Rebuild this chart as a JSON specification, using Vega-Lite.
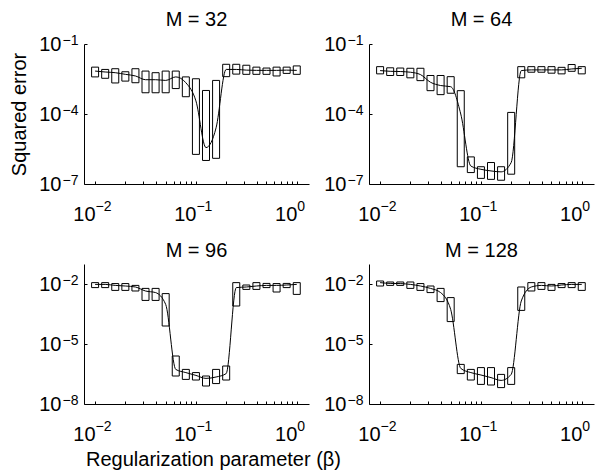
{
  "$schema": "https://vega.github.io/schema/vega-lite/v6.json",
  "background": "white",
  "padding": {"left": 9, "top": 10, "right": 5, "bottom": 5},
  "config": {
    "view": {"stroke": null},
    "font": "Liberation Sans",
    "axis": {"grid": false, "domainColor": "#000", "tickColor": "#000", "labelColor": "#000", "titleColor": "#000", "labelFont": "Liberation Sans", "titleFont": "Liberation Sans", "titleFontWeight": "normal", "labelOverlap": false, "labelFlush": false, "domainWidth": 1, "tickWidth": 1},
    "title": {"font": "Liberation Sans", "fontSize": 20, "fontWeight": "normal", "color": "#000", "frame": "group", "anchor": "middle", "offset": 3, "baseline": "alphabetic"}
  },
  "datasets": {
    "d": [
      {"M": 32, "b": 0.01, "hi": 1.02e-2, "lo": 3.89e-3, "med": 6.92e-3},
      {"M": 32, "b": 0.012589, "hi": 8.13e-3, "lo": 3.39e-3, "med": 6.31e-3},
      {"M": 32, "b": 0.015849, "hi": 8.71e-3, "lo": 2.14e-3, "med": 5.89e-3},
      {"M": 32, "b": 0.019953, "hi": 6.46e-3, "lo": 2.57e-3, "med": 5.01e-3},
      {"M": 32, "b": 0.025119, "hi": 8.71e-3, "lo": 2.19e-3, "med": 4.27e-3},
      {"M": 32, "b": 0.031623, "hi": 6.92e-3, "lo": 8.13e-4, "med": 2.95e-3},
      {"M": 32, "b": 0.039811, "hi": 5.89e-3, "lo": 8.13e-4, "med": 2.95e-3},
      {"M": 32, "b": 0.050119, "hi": 6.92e-3, "lo": 8.13e-4, "med": 2.75e-3},
      {"M": 32, "b": 0.063096, "hi": 6.92e-3, "lo": 1.23e-3, "med": 3.89e-3},
      {"M": 32, "b": 0.079433, "hi": 3.89e-3, "lo": 5.50e-4, "med": 2.19e-3},
      {"M": 32, "b": 0.1, "hi": 3.24e-3, "lo": 1.86e-6, "med": 3.63e-4},
      {"M": 32, "b": 0.125893, "hi": 1.02e-3, "lo": 1.02e-6, "med": 3.63e-6},
      {"M": 32, "b": 0.158489, "hi": 2.75e-3, "lo": 1.26e-6, "med": 2.57e-5},
      {"M": 32, "b": 0.199526, "hi": 1.35e-2, "lo": 3.98e-3, "med": 8.13e-3},
      {"M": 32, "b": 0.251189, "hi": 1.35e-2, "lo": 5.13e-3, "med": 8.13e-3},
      {"M": 32, "b": 0.316228, "hi": 1.23e-2, "lo": 5.01e-3, "med": 7.59e-3},
      {"M": 32, "b": 0.398107, "hi": 1.02e-2, "lo": 5.01e-3, "med": 7.41e-3},
      {"M": 32, "b": 0.501187, "hi": 9.33e-3, "lo": 5.01e-3, "med": 7.41e-3},
      {"M": 32, "b": 0.630957, "hi": 1.02e-2, "lo": 4.27e-3, "med": 7.41e-3},
      {"M": 32, "b": 0.794328, "hi": 1.02e-2, "lo": 5.50e-3, "med": 7.59e-3},
      {"M": 32, "b": 1.0, "hi": 1.15e-2, "lo": 5.01e-3, "med": 7.41e-3},

      {"M": 64, "b": 0.01, "hi": 1.07e-2, "lo": 5.25e-3, "med": 7.24e-3},
      {"M": 64, "b": 0.012589, "hi": 9.55e-3, "lo": 4.47e-3, "med": 6.76e-3},
      {"M": 64, "b": 0.015849, "hi": 9.33e-3, "lo": 4.47e-3, "med": 6.61e-3},
      {"M": 64, "b": 0.019953, "hi": 9.12e-3, "lo": 3.55e-3, "med": 6.17e-3},
      {"M": 64, "b": 0.025119, "hi": 9.12e-3, "lo": 2.69e-3, "med": 4.90e-3},
      {"M": 64, "b": 0.031623, "hi": 4.47e-3, "lo": 1.0e-3, "med": 2.29e-3},
      {"M": 64, "b": 0.039811, "hi": 4.47e-3, "lo": 6.76e-4, "med": 1.66e-3},
      {"M": 64, "b": 0.050119, "hi": 3.98e-3, "lo": 7.76e-4, "med": 1.48e-3},
      {"M": 64, "b": 0.063096, "hi": 1.0e-3, "lo": 5.50e-7, "med": 1.0e-4},
      {"M": 64, "b": 0.079433, "hi": 1.45e-6, "lo": 3.09e-7, "med": 5.89e-7},
      {"M": 64, "b": 0.1, "hi": 5.50e-7, "lo": 1.74e-7, "med": 4.27e-7},
      {"M": 64, "b": 0.125893, "hi": 8.32e-7, "lo": 1.58e-7, "med": 3.63e-7},
      {"M": 64, "b": 0.158489, "hi": 5.50e-7, "lo": 1.45e-7, "med": 3.31e-7},
      {"M": 64, "b": 0.199526, "hi": 1.17e-4, "lo": 2.63e-7, "med": 8.32e-7},
      {"M": 64, "b": 0.251189, "hi": 1.07e-2, "lo": 3.55e-3, "med": 7.24e-3},
      {"M": 64, "b": 0.316228, "hi": 1.07e-2, "lo": 6.17e-3, "med": 7.76e-3},
      {"M": 64, "b": 0.398107, "hi": 1.07e-2, "lo": 6.17e-3, "med": 7.76e-3},
      {"M": 64, "b": 0.501187, "hi": 1.07e-2, "lo": 5.62e-3, "med": 7.76e-3},
      {"M": 64, "b": 0.630957, "hi": 1.0e-2, "lo": 5.25e-3, "med": 7.76e-3},
      {"M": 64, "b": 0.794328, "hi": 1.32e-2, "lo": 6.76e-3, "med": 8.51e-3},
      {"M": 64, "b": 1.0, "hi": 1.07e-2, "lo": 5.25e-3, "med": 9.12e-3},

      {"M": 96, "b": 0.01, "hi": 1.17e-2, "lo": 6.61e-3, "med": 9.55e-3},
      {"M": 96, "b": 0.012589, "hi": 1.17e-2, "lo": 6.61e-3, "med": 9.55e-3},
      {"M": 96, "b": 0.015849, "hi": 1.05e-2, "lo": 4.79e-3, "med": 8.51e-3},
      {"M": 96, "b": 0.019953, "hi": 1.05e-2, "lo": 4.79e-3, "med": 7.94e-3},
      {"M": 96, "b": 0.025119, "hi": 8.51e-3, "lo": 4.47e-3, "med": 7.08e-3},
      {"M": 96, "b": 0.031623, "hi": 6.03e-3, "lo": 1.51e-3, "med": 4.47e-3},
      {"M": 96, "b": 0.039811, "hi": 6.03e-3, "lo": 1.51e-3, "med": 3.72e-3},
      {"M": 96, "b": 0.050119, "hi": 3.31e-3, "lo": 7.94e-5, "med": 9.55e-4},
      {"M": 96, "b": 0.063096, "hi": 2.51e-6, "lo": 2.51e-7, "med": 5.37e-7},
      {"M": 96, "b": 0.079433, "hi": 5.37e-7, "lo": 1.70e-7, "med": 3.72e-7},
      {"M": 96, "b": 0.1, "hi": 3.72e-7, "lo": 1.58e-7, "med": 2.69e-7},
      {"M": 96, "b": 0.125893, "hi": 2.51e-7, "lo": 7.94e-8, "med": 1.91e-7},
      {"M": 96, "b": 0.158489, "hi": 5.37e-7, "lo": 1.05e-7, "med": 2.24e-7},
      {"M": 96, "b": 0.199526, "hi": 7.94e-7, "lo": 1.58e-7, "med": 3.31e-7},
      {"M": 96, "b": 0.251189, "hi": 1.17e-2, "lo": 7.94e-4, "med": 6.61e-3},
      {"M": 96, "b": 0.316228, "hi": 8.91e-3, "lo": 5.37e-3, "med": 7.08e-3},
      {"M": 96, "b": 0.398107, "hi": 1.17e-2, "lo": 5.37e-3, "med": 7.94e-3},
      {"M": 96, "b": 0.501187, "hi": 1.07e-2, "lo": 6.61e-3, "med": 8.51e-3},
      {"M": 96, "b": 0.630957, "hi": 1.05e-2, "lo": 3.98e-3, "med": 8.51e-3},
      {"M": 96, "b": 0.794328, "hi": 1.07e-2, "lo": 6.61e-3, "med": 8.91e-3},
      {"M": 96, "b": 1.0, "hi": 1.17e-2, "lo": 3.02e-3, "med": 9.55e-3},

      {"M": 128, "b": 0.01, "hi": 1.41e-2, "lo": 7.94e-3, "med": 1.17e-2},
      {"M": 128, "b": 0.012589, "hi": 1.26e-2, "lo": 8.51e-3, "med": 1.07e-2},
      {"M": 128, "b": 0.015849, "hi": 1.26e-2, "lo": 8.51e-3, "med": 1.05e-2},
      {"M": 128, "b": 0.019953, "hi": 1.26e-2, "lo": 6.03e-3, "med": 9.55e-3},
      {"M": 128, "b": 0.025119, "hi": 1.05e-2, "lo": 4.79e-3, "med": 7.94e-3},
      {"M": 128, "b": 0.031623, "hi": 7.94e-3, "lo": 3.72e-3, "med": 6.03e-3},
      {"M": 128, "b": 0.039811, "hi": 6.03e-3, "lo": 1.32e-3, "med": 3.72e-3},
      {"M": 128, "b": 0.050119, "hi": 2.09e-3, "lo": 1.32e-4, "med": 5.37e-4},
      {"M": 128, "b": 0.063096, "hi": 9.55e-7, "lo": 3.31e-7, "med": 6.03e-7},
      {"M": 128, "b": 0.079433, "hi": 5.37e-7, "lo": 1.58e-7, "med": 3.72e-7},
      {"M": 128, "b": 0.1, "hi": 6.61e-7, "lo": 9.55e-8, "med": 2.82e-7},
      {"M": 128, "b": 0.125893, "hi": 6.61e-7, "lo": 8.91e-8, "med": 2.09e-7},
      {"M": 128, "b": 0.158489, "hi": 3.02e-7, "lo": 6.61e-8, "med": 1.51e-7},
      {"M": 128, "b": 0.199526, "hi": 6.61e-7, "lo": 9.55e-8, "med": 3.02e-7},
      {"M": 128, "b": 0.251189, "hi": 7.08e-3, "lo": 4.79e-4, "med": 1.41e-3},
      {"M": 128, "b": 0.316228, "hi": 1.17e-2, "lo": 4.47e-3, "med": 7.08e-3},
      {"M": 128, "b": 0.398107, "hi": 1.17e-2, "lo": 5.37e-3, "med": 8.51e-3},
      {"M": 128, "b": 0.501187, "hi": 9.55e-3, "lo": 4.79e-3, "med": 7.94e-3},
      {"M": 128, "b": 0.630957, "hi": 1.05e-2, "lo": 6.61e-3, "med": 8.91e-3},
      {"M": 128, "b": 0.794328, "hi": 1.17e-2, "lo": 6.61e-3, "med": 9.55e-3},
      {"M": 128, "b": 1.0, "hi": 1.17e-2, "lo": 4.79e-3, "med": 9.55e-3}
    ]
  },
  "data": {"name": "d"},
  "columns": 2,
  "spacing": {"row": 80, "column": 60},
  "bounds": "flush",
  "concat": [
    {
      "title": {"text": "M = 32"},
      "width": 225, "height": 140,
      "transform": [{"filter": "datum.M == 32"}],
      "resolve": {"axis": {"x": "independent", "y": "independent"}},
      "layer": [
        {
          "mark": {"type": "bar", "size": 7, "fill": "transparent", "stroke": "#000", "strokeWidth": 1},
          "encoding": {
            "x": {"field": "b", "type": "quantitative", "scale": {"type": "log", "domain": [0.0087, 1.18]},
              "axis": {"orient": "bottom", "title": null, "values": [0.01,0.02,0.03,0.04,0.05,0.06,0.07,0.08,0.09,0.1,0.2,0.3,0.4,0.5,0.6,0.7,0.8,0.9,1], "labelExpr": "datum.value == 0.01 || datum.value == 0.1 || datum.value == 1 ? '10' : ''", "tickSize": -3, "labelFontSize": 20, "labelAlign": "right", "labelDx": 2, "labelBaseline": "alphabetic", "labelPadding": 39}},
            "y": {"field": "hi", "type": "quantitative", "scale": {"type": "log", "domain": [1e-7, 1e-1]},
              "axis": {"orient": "left", "title": "Squared error", "titleFontSize": 20, "titleX": -59, "titleY": 70, "titleAngle": -90, "titleAlign": "center", "titleBaseline": "alphabetic", "values": [1e-7, 1e-4, 1e-1], "labelExpr": "'10'", "tickSize": -3, "labelFontSize": 20, "labelAlign": "right", "labelBaseline": "middle", "labelPadding": 26, "labelDy": 3}},
            "y2": {"field": "lo"}
          }
        },
        {
          "mark": {"type": "line", "color": "#000", "strokeWidth": 1, "interpolate": "monotone"},
          "encoding": {
            "x": {"field": "b", "type": "quantitative", "scale": {"type": "log", "domain": [0.0087, 1.18]},
              "axis": {"orient": "bottom", "title": null, "values": [0.01, 0.1, 1], "labelExpr": "datum.value == 0.01 ? '−2' : datum.value == 0.1 ? '−1' : '0'", "ticks": false, "domain": false, "labelFontSize": 14, "labelAlign": "left", "labelDx": 4, "labelBaseline": "alphabetic", "labelPadding": 26}},
            "y": {"field": "med", "type": "quantitative", "scale": {"type": "log", "domain": [1e-7, 1e-1]},
              "axis": {"orient": "left", "title": null, "values": [1e-7, 1e-4, 1e-1], "labelExpr": "datum.value == 1e-7 ? '−7' : datum.value == 1e-4 ? '−4' : '−1'", "ticks": false, "domain": false, "labelFontSize": 14, "labelAlign": "right", "labelBaseline": "alphabetic", "labelPadding": 6, "labelDy": -3}}
          }
        }
      ]
    },
    {
      "title": {"text": "M = 64"},
      "width": 225, "height": 140,
      "transform": [{"filter": "datum.M == 64"}],
      "resolve": {"axis": {"x": "independent", "y": "independent"}},
      "layer": [
        {
          "mark": {"type": "bar", "size": 7, "fill": "transparent", "stroke": "#000", "strokeWidth": 1},
          "encoding": {
            "x": {"field": "b", "type": "quantitative", "scale": {"type": "log", "domain": [0.0087, 1.18]},
              "axis": {"orient": "bottom", "title": null, "values": [0.01,0.02,0.03,0.04,0.05,0.06,0.07,0.08,0.09,0.1,0.2,0.3,0.4,0.5,0.6,0.7,0.8,0.9,1], "labelExpr": "datum.value == 0.01 || datum.value == 0.1 || datum.value == 1 ? '10' : ''", "tickSize": -3, "labelFontSize": 20, "labelAlign": "right", "labelDx": 2, "labelBaseline": "alphabetic", "labelPadding": 39}},
            "y": {"field": "hi", "type": "quantitative", "scale": {"type": "log", "domain": [1e-7, 1e-1]},
              "axis": {"orient": "left", "title": null, "values": [1e-7, 1e-4, 1e-1], "labelExpr": "'10'", "tickSize": -3, "labelFontSize": 20, "labelAlign": "right", "labelBaseline": "middle", "labelPadding": 26, "labelDy": 3}},
            "y2": {"field": "lo"}
          }
        },
        {
          "mark": {"type": "line", "color": "#000", "strokeWidth": 1, "interpolate": "monotone"},
          "encoding": {
            "x": {"field": "b", "type": "quantitative", "scale": {"type": "log", "domain": [0.0087, 1.18]},
              "axis": {"orient": "bottom", "title": null, "values": [0.01, 0.1, 1], "labelExpr": "datum.value == 0.01 ? '−2' : datum.value == 0.1 ? '−1' : '0'", "ticks": false, "domain": false, "labelFontSize": 14, "labelAlign": "left", "labelDx": 4, "labelBaseline": "alphabetic", "labelPadding": 26}},
            "y": {"field": "med", "type": "quantitative", "scale": {"type": "log", "domain": [1e-7, 1e-1]},
              "axis": {"orient": "left", "title": null, "values": [1e-7, 1e-4, 1e-1], "labelExpr": "datum.value == 1e-7 ? '−7' : datum.value == 1e-4 ? '−4' : '−1'", "ticks": false, "domain": false, "labelFontSize": 14, "labelAlign": "right", "labelBaseline": "alphabetic", "labelPadding": 6, "labelDy": -3}}
          }
        }
      ]
    },
    {
      "title": {"text": "M = 96"},
      "width": 225, "height": 140,
      "transform": [{"filter": "datum.M == 96"}],
      "resolve": {"axis": {"x": "independent", "y": "independent"}},
      "layer": [
        {
          "mark": {"type": "bar", "size": 7, "fill": "transparent", "stroke": "#000", "strokeWidth": 1},
          "encoding": {
            "x": {"field": "b", "type": "quantitative", "scale": {"type": "log", "domain": [0.0087, 1.18]},
              "axis": {"orient": "bottom", "title": "Regularization parameter (β)", "titleFontSize": 20, "titleX": 129, "titleY": 61, "titleAlign": "center", "titleBaseline": "alphabetic", "values": [0.01,0.02,0.03,0.04,0.05,0.06,0.07,0.08,0.09,0.1,0.2,0.3,0.4,0.5,0.6,0.7,0.8,0.9,1], "labelExpr": "datum.value == 0.01 || datum.value == 0.1 || datum.value == 1 ? '10' : ''", "tickSize": -3, "labelFontSize": 20, "labelAlign": "right", "labelDx": 2, "labelBaseline": "alphabetic", "labelPadding": 39}},
            "y": {"field": "hi", "type": "quantitative", "scale": {"type": "log", "domain": [1e-8, 1e-1]},
              "axis": {"orient": "left", "title": null, "values": [1e-8, 1e-5, 1e-2], "labelExpr": "'10'", "tickSize": -3, "labelFontSize": 20, "labelAlign": "right", "labelBaseline": "middle", "labelPadding": 26, "labelDy": 3}},
            "y2": {"field": "lo"}
          }
        },
        {
          "mark": {"type": "line", "color": "#000", "strokeWidth": 1, "interpolate": "monotone"},
          "encoding": {
            "x": {"field": "b", "type": "quantitative", "scale": {"type": "log", "domain": [0.0087, 1.18]},
              "axis": {"orient": "bottom", "title": null, "values": [0.01, 0.1, 1], "labelExpr": "datum.value == 0.01 ? '−2' : datum.value == 0.1 ? '−1' : '0'", "ticks": false, "domain": false, "labelFontSize": 14, "labelAlign": "left", "labelDx": 4, "labelBaseline": "alphabetic", "labelPadding": 26}},
            "y": {"field": "med", "type": "quantitative", "scale": {"type": "log", "domain": [1e-8, 1e-1]},
              "axis": {"orient": "left", "title": null, "values": [1e-8, 1e-5, 1e-2], "labelExpr": "datum.value == 1e-8 ? '−8' : datum.value == 1e-5 ? '−5' : '−2'", "ticks": false, "domain": false, "labelFontSize": 14, "labelAlign": "right", "labelBaseline": "alphabetic", "labelPadding": 6, "labelDy": -3}}
          }
        }
      ]
    },
    {
      "title": {"text": "M = 128"},
      "width": 225, "height": 140,
      "transform": [{"filter": "datum.M == 128"}],
      "resolve": {"axis": {"x": "independent", "y": "independent"}},
      "layer": [
        {
          "mark": {"type": "bar", "size": 7, "fill": "transparent", "stroke": "#000", "strokeWidth": 1},
          "encoding": {
            "x": {"field": "b", "type": "quantitative", "scale": {"type": "log", "domain": [0.0087, 1.18]},
              "axis": {"orient": "bottom", "title": null, "values": [0.01,0.02,0.03,0.04,0.05,0.06,0.07,0.08,0.09,0.1,0.2,0.3,0.4,0.5,0.6,0.7,0.8,0.9,1], "labelExpr": "datum.value == 0.01 || datum.value == 0.1 || datum.value == 1 ? '10' : ''", "tickSize": -3, "labelFontSize": 20, "labelAlign": "right", "labelDx": 2, "labelBaseline": "alphabetic", "labelPadding": 39}},
            "y": {"field": "hi", "type": "quantitative", "scale": {"type": "log", "domain": [1e-8, 1e-1]},
              "axis": {"orient": "left", "title": null, "values": [1e-8, 1e-5, 1e-2], "labelExpr": "'10'", "tickSize": -3, "labelFontSize": 20, "labelAlign": "right", "labelBaseline": "middle", "labelPadding": 26, "labelDy": 3}},
            "y2": {"field": "lo"}
          }
        },
        {
          "mark": {"type": "line", "color": "#000", "strokeWidth": 1, "interpolate": "monotone"},
          "encoding": {
            "x": {"field": "b", "type": "quantitative", "scale": {"type": "log", "domain": [0.0087, 1.18]},
              "axis": {"orient": "bottom", "title": null, "values": [0.01, 0.1, 1], "labelExpr": "datum.value == 0.01 ? '−2' : datum.value == 0.1 ? '−1' : '0'", "ticks": false, "domain": false, "labelFontSize": 14, "labelAlign": "left", "labelDx": 4, "labelBaseline": "alphabetic", "labelPadding": 26}},
            "y": {"field": "med", "type": "quantitative", "scale": {"type": "log", "domain": [1e-8, 1e-1]},
              "axis": {"orient": "left", "title": null, "values": [1e-8, 1e-5, 1e-2], "labelExpr": "datum.value == 1e-8 ? '−8' : datum.value == 1e-5 ? '−5' : '−2'", "ticks": false, "domain": false, "labelFontSize": 14, "labelAlign": "right", "labelBaseline": "alphabetic", "labelPadding": 6, "labelDy": -3}}
          }
        }
      ]
    }
  ]
}
